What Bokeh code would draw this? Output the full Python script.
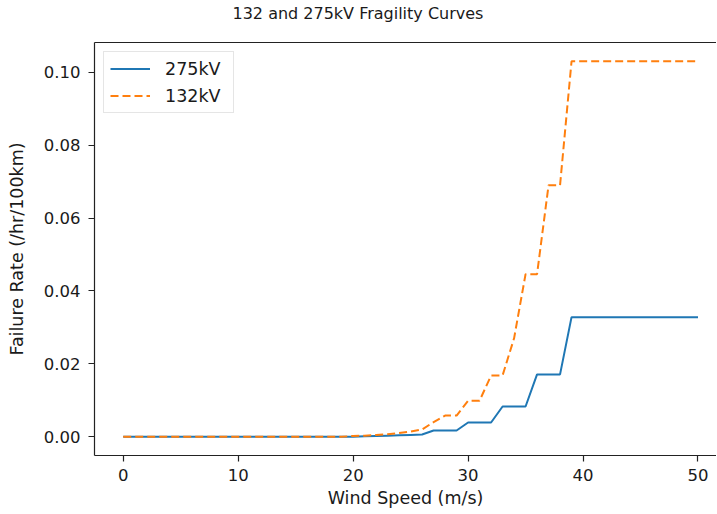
from bokeh.plotting import figure
from bokeh.models import (Range1d, FixedTicker, NumeralTickFormatter, LinearAxis,
                          Legend, LegendItem, Title)
from bokeh.embed import file_html
from bokeh.resources import INLINE

# ---- data ----
wind_speed = [0, 1, 2, 3, 4, 5, 6, 7, 8, 9, 10, 11, 12, 13, 14, 15, 16, 17, 18, 19,
              20, 21, 22, 23, 24, 25, 26, 27, 28, 29, 30, 31, 32, 33, 34, 35, 36, 37, 38, 39,
              40, 41, 42, 43, 44, 45, 46, 47, 48, 49, 50]

rate_275kv = [0, 0, 0, 0, 0, 0, 0, 0, 0, 0, 0, 0, 0, 0, 0, 0, 0, 0, 0, 0,
              0, 0.0001, 0.0002, 0.0003, 0.0004, 0.0005, 0.0006, 0.0017, 0.0017, 0.0017,
              0.0039, 0.0039, 0.0039, 0.0083, 0.0083, 0.0083, 0.0171, 0.0171, 0.0171, 0.0328,
              0.0328, 0.0328, 0.0328, 0.0328, 0.0328, 0.0328, 0.0328, 0.0328, 0.0328, 0.0328, 0.0328]

rate_132kv = [0, 0, 0, 0, 0, 0, 0, 0, 0, 0, 0, 0, 0, 0, 0, 0, 0, 0, 0, 0,
              0.0002, 0.0003, 0.0005, 0.0007, 0.0010, 0.0014, 0.0020, 0.0040, 0.0058, 0.0058,
              0.0099, 0.0099, 0.0168, 0.0168, 0.0270, 0.0446, 0.0446, 0.0690, 0.0690, 0.1030,
              0.1030, 0.1030, 0.1030, 0.1030, 0.1030, 0.1030, 0.1030, 0.1030, 0.1030, 0.1030, 0.1030]

series_labels = ["275kV", "132kV"]
x_ticks = [0, 10, 20, 30, 40, 50]
y_ticks = [0.0, 0.02, 0.04, 0.06, 0.08, 0.10]

title_text = "132 and 275kV Fragility Curves"
x_label = "Wind Speed (m/s)"
y_label = "Failure Rate (/hr/100km)"

FONT = "DejaVu Sans"
TXT = "#1a1a1a"

p = figure(width=716, height=513, title_location=None,
           output_backend="svg", toolbar_location=None,
           x_range=Range1d(-2.5, 51.61), y_range=Range1d(-0.00515, 0.10815),
           min_border_left=94, min_border_right=0, min_border_top=42, min_border_bottom=58)

p.background_fill_color = "white"
p.border_fill_color = "white"
p.outline_line_color = None
p.xgrid.visible = False
p.ygrid.visible = False

xax = p.below[0]
yax = p.left[0]

# top spine
top = LinearAxis(ticker=FixedTicker(ticks=[]), axis_line_color="#222222", axis_line_width=1.2,
                 major_tick_line_color="white", minor_tick_line_color=None,
                 major_tick_out=18, major_tick_in=0, major_label_standoff=0,
                 major_label_text_font_size="0px")
p.add_layout(top, "above")

# title: a blank second line lifts the text away from the frame
title = Title(text=title_text + "\n ", text_font=FONT, text_font_size="16px",
              text_font_style="normal", text_color=TXT, align="left", offset=138, standoff=2)
p.add_layout(title, "above")

r1 = p.line(wind_speed, rate_275kv, line_color="#1f77b4", line_width=2)
r2 = p.line(wind_speed, rate_132kv, line_color="#ff7f0e", line_width=2, line_dash="8 4")

for ax in (xax, yax):
    ax.major_label_text_font = FONT
    ax.major_label_text_font_size = "16.5px"
    ax.major_label_text_color = TXT
    ax.axis_label_text_font = FONT
    ax.axis_label_text_font_size = "17.5px"
    ax.axis_label_text_font_style = "normal"
    ax.axis_label_text_color = TXT
    ax.axis_line_color = "#222222"
    ax.axis_line_width = 1.2
    ax.major_tick_line_color = "#222222"
    ax.major_tick_line_width = 1.2
    ax.major_tick_out = 6
    ax.major_tick_in = 0
    ax.minor_tick_line_color = None

xax.ticker = FixedTicker(ticks=x_ticks)
xax.formatter = NumeralTickFormatter(format="0")
xax.axis_label = x_label
xax.major_label_standoff = 7
xax.axis_label_standoff = 4

yax.ticker = FixedTicker(ticks=y_ticks)
yax.formatter = NumeralTickFormatter(format="0.00")
yax.axis_label = y_label
yax.major_label_standoff = 8
yax.axis_label_standoff = 14

legend = Legend(items=[LegendItem(label=series_labels[0], renderers=[r1]),
                       LegendItem(label=series_labels[1], renderers=[r2])],
                location="top_left", margin=9, padding=6, spacing=6,
                glyph_width=40, glyph_height=21, label_height=21, label_width=62,
                label_standoff=15,
                label_text_font=FONT, label_text_font_size="17.5px", label_text_color=TXT,
                border_line_color="#cccccc", border_line_width=1,
                background_fill_color="white", background_fill_alpha=0.8)
p.add_layout(legend, "center")

open("out.html", "w").write(file_html(p, INLINE))
